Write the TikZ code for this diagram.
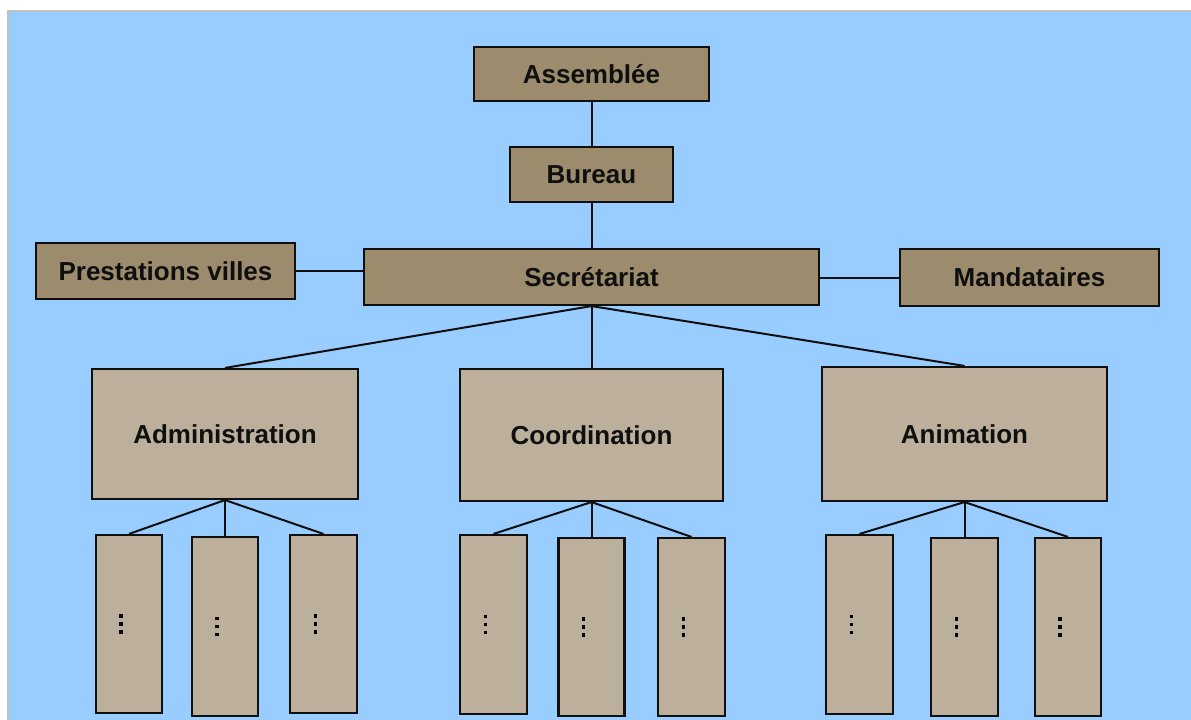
\documentclass[tikz,border=0pt]{standalone}
\usepackage{fontspec}
\setmainfont{Liberation Sans}
\definecolor{bgblue}{RGB}{153,204,255}
\definecolor{frame}{RGB}{192,192,192}
\definecolor{darkbox}{RGB}{156,139,108}
\definecolor{lightbox}{RGB}{188,176,157}
\definecolor{ink}{RGB}{15,15,15}
\newcommand{\vdotsq}{\vbox{\offinterlineskip\hbox{\rule{2.4pt}{2.4pt}}\vskip3.6pt\hbox{\rule{2.4pt}{2.4pt}}\vskip3.6pt\hbox{\rule{2.4pt}{2.4pt}}}}
\tikzset{
  box/.style={draw=ink, line width=1.6pt, inner sep=0pt, text=ink,
    font=\fontsize{19.5}{23}\selectfont\bfseries},
  topbox/.style={box, fill=darkbox},
  midbox/.style={box, fill=lightbox},
  leafbox/.style={box, fill=lightbox,
    label={[xshift=-6pt, inner sep=0pt]center:\vdotsq}},
  link/.style={draw=ink, line width=1.5pt}
}
\begin{document}
\begin{tikzpicture}[x=0.75pt, y=-0.75pt]
\useasboundingbox (0,0) rectangle (1191,720);
\fill[white] (0,0) rectangle (1191,720);
\fill[frame] (7,10) rectangle (1191,720);
\fill[bgblue] (9,12) rectangle (1191,720);

% top level
\node[topbox, minimum width=235*0.75pt, minimum height=54*0.75pt] (ass) at (591.5,74) {Assemblée};
\node[topbox, minimum width=163*0.75pt, minimum height=55*0.75pt] (bur) at (591.5,174.5) {Bureau};
\node[topbox, minimum width=455*0.75pt, minimum height=56*0.75pt] (sec) at (591.5,277) {Secrétariat};
\node[topbox, minimum width=259*0.75pt, minimum height=56*0.75pt] (pre) at (165.5,271) {Prestations villes};
\node[topbox, minimum width=259*0.75pt, minimum height=57*0.75pt] (man) at (1029.5,277.5) {Mandataires};

% second level
\node[midbox, minimum width=266*0.75pt, minimum height=130*0.75pt] (adm) at (225,434) {Administration};
\node[midbox, minimum width=263*0.75pt, minimum height=132*0.75pt] (coo) at (591.5,435) {Coordination};
\node[midbox, minimum width=285*0.75pt, minimum height=134*0.75pt] (ani) at (964.5,434) {Animation};

% leaves
\node[leafbox, minimum width=66*0.75pt, minimum height=178*0.75pt] (a1) at (129,624) {};
\node[leafbox, minimum width=66*0.75pt, minimum height=179*0.75pt] (a2) at (225,626.5) {};
\node[leafbox, minimum width=67*0.75pt, minimum height=178*0.75pt] (a3) at (323.5,624) {};
\node[leafbox, minimum width=67*0.75pt, minimum height=179*0.75pt] (c1) at (493.5,624.5) {};
\node[leafbox, minimum width=66*0.75pt, minimum height=178*0.75pt] (c2) at (591.5,627) {};
\node[leafbox, minimum width=67*0.75pt, minimum height=178*0.75pt] (c3) at (691.5,627) {};
\node[leafbox, minimum width=67*0.75pt, minimum height=179*0.75pt] (n1) at (859.5,624.5) {};
\node[leafbox, minimum width=67*0.75pt, minimum height=178*0.75pt] (n2) at (964.5,627) {};
\node[leafbox, minimum width=66*0.75pt, minimum height=178*0.75pt] (n3) at (1068,627) {};

% connectors
\draw[link] (ass.south) -- (bur.north);
\draw[link] (bur.south) -- (sec.north);
\draw[link] (pre.east) -- (pre.east -| sec.west);
\draw[link] (sec.east |- man.west) -- (man.west);
\draw[link] (sec.south) -- (adm.north);
\draw[link] (sec.south) -- (coo.north);
\draw[link] (sec.south) -- (ani.north);
\foreach \p/\c in {adm/a, coo/c, ani/n}{
  \draw[link] (\p.south) -- (\c1.north);
  \draw[link] (\p.south) -- (\c2.north);
  \draw[link] (\p.south) -- (\c3.north);
}
\end{tikzpicture}
\end{document}
